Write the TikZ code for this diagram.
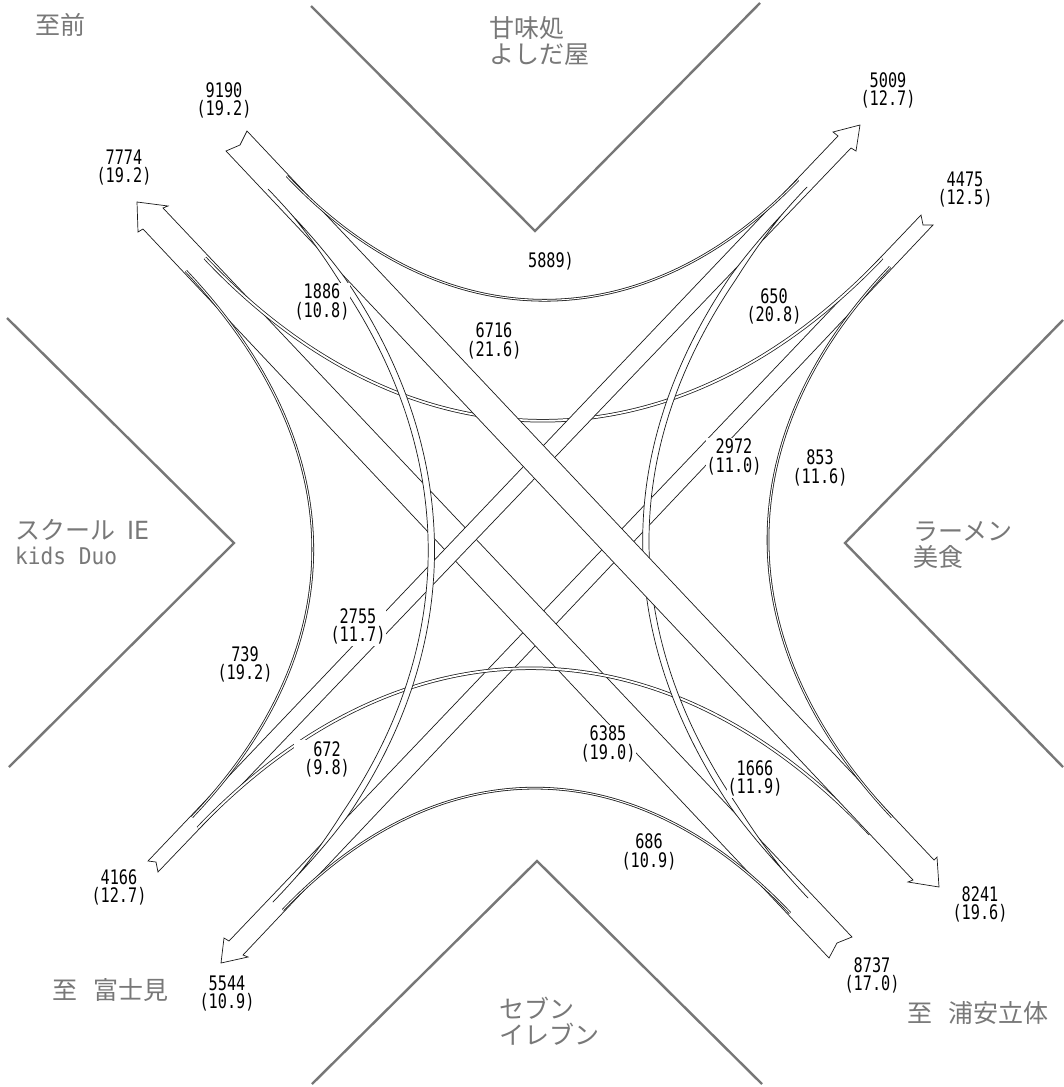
\documentclass[tikz,border=0pt]{standalone}
\usepackage{fontspec}
\newfontfamily\numfont[FakeStretch=0.76]{DejaVu Sans Mono}
\newfontfamily\jpfont{Noto Sans CJK JP}
\newfontfamily\lgfont[FakeStretch=0.92]{DejaVu Sans Mono}
\newfontfamily\iefont[FakeStretch=0.95]{DejaVu Sans}
\definecolor{bldg}{HTML}{777777}
\definecolor{txtgray}{HTML}{787878}
\definecolor{ink}{HTML}{1A1A1A}
\tikzset{
  bldgline/.style={draw=bldg,line width=2.4pt,line join=miter},
  band/.style={draw=ink,fill=white,line width=.7pt,line join=miter},
  arcthin/.style={draw=ink,line width=.8pt,double=white,double distance=1pt},
  arcmid/.style={draw=ink,line width=.75pt,double=white,double distance=1.9pt},
  arcwide/.style={draw=ink,fill=white,line width=.7pt,line join=round},
  lbl/.style={fill=white,inner sep=1pt,align=center,text=black,font=\numfont\fontsize{20}{18.6}\selectfont},
  place/.style={text=txtgray,inner sep=0pt,anchor=west,align=left,font=\jpfont\fontsize{25}{26.5}\selectfont}
}
% cubic curve (x0,y0)(x1,y1)(x2,y2)(x3,y3) drawn as two lines that meet near both ends
\newcommand\taperarc[8]{%
\begin{scope}[declare function={
 bx(\pp)=(1-\pp)*(1-\pp)*(1-\pp)*#1+3*(1-\pp)*(1-\pp)*\pp*#3+3*(1-\pp)*\pp*\pp*#5+\pp*\pp*\pp*#7;
 by(\pp)=(1-\pp)*(1-\pp)*(1-\pp)*#2+3*(1-\pp)*(1-\pp)*\pp*#4+3*(1-\pp)*\pp*\pp*#6+\pp*\pp*\pp*#8;
 dxa(\pp)=0.03*(1-\pp)*(1-\pp)*(#3-#1)+0.06*(1-\pp)*\pp*(#5-#3)+0.03*\pp*\pp*(#7-#5);
 dya(\pp)=0.03*(1-\pp)*(1-\pp)*(#4-#2)+0.06*(1-\pp)*\pp*(#6-#4)+0.03*\pp*\pp*(#8-#6);
 wd(\pp)=3.15*min(1,max(0,min((\pp-0.04)/0.09,(0.96-\pp)/0.09)));
 nx(\pp)=dya(\pp)/veclen(dxa(\pp),dya(\pp));
 ny(\pp)=dxa(\pp)/veclen(dxa(\pp),dya(\pp));
}]
\draw[arcwide] plot[domain=0:1,samples=121,variable=\pp] ({bx(\pp)+wd(\pp)*nx(\pp)},{by(\pp)-wd(\pp)*ny(\pp)})
 -- plot[domain=1:0,samples=121,variable=\pp] ({bx(\pp)-wd(\pp)*nx(\pp)},{by(\pp)+wd(\pp)*ny(\pp)}) -- cycle;
\end{scope}}
\begin{document}
\begin{tikzpicture}[x=1pt,y=-1pt]
\useasboundingbox (0,0) rectangle (1063,1087);
\fill[white] (0,0) rectangle (1063,1087);
% building corners
\draw[bldgline] (311,6) -- (535,231) -- (760,3);
\draw[bldgline] (1063,320) -- (845,543) -- (1063,767);
\draw[bldgline] (7,318) -- (234,543) -- (9,767);
\draw[bldgline] (312,1084) -- (537,861) -- (762,1084);
% road D
\draw[band] (921,215) -- (923,225) -- (933,225) -- (243,955) -- (248,957) -- (221,963) -- (224,938) -- (229,941) -- cycle;
% road B
\draw[band] (137,202) -- (168,206) -- (163,208) -- (852,937) -- (837,943) -- (829,958) -- (143,229) -- (138,232) -- cycle;
% top large arc
\draw[arcmid] (205,258) .. controls (410,475) and (675,475) .. (882,258);
% road C
\draw[band] (860,125) -- (856,151) -- (851,148) -- (158,872) -- (156,862) -- (148,861) -- (838,136) -- (833,132) -- cycle;
% bottom large arc
\draw[arcmid] (198,828) .. controls (403,614) and (663,614) .. (870,834);
% right wide arc
\taperarc{807}{187}{592}{413}{592}{669}{808}{898}
% road A
\draw[band] (247,131) -- (240,145) -- (226,151) -- (913,880) -- (908,882) -- (939,887) -- (937,857) -- (934,860) -- cycle;
% small arcs
\draw[arcthin] (287,176) .. controls (442,340) and (642,342) .. (798,180);
\draw[arcthin] (186,271) .. controls (354,449) and (354,647) .. (192,817);
\draw[arcthin] (890,267) .. controls (727,438) and (727,642) .. (892,817);
\draw[arcthin] (283,910) .. controls (439,747) and (633,747) .. (790,913);
% left wide arc
\taperarc{268}{189}{485}{414}{485}{684}{273}{902}
% volume labels
\node[lbl] (n9190) at (224,100.5) {9190\\(19.2)};
\node[lbl] (n7774) at (124,167.5) {7774\\(19.2)};
\node[lbl] (n5009) at (888,90.5) {5009\\(12.7)};
\node[lbl] (n4475) at (965,189.5) {4475\\(12.5)};
\node[lbl] (n1886) at (322,302) {1886\\(10.8)};
\node[lbl] (n6716) at (494,341) {6716\\(21.6)};
\node[lbl] (n5889) at (551,261) {5889)};
\node[lbl] (n650) at (774,306.5) {650\\(20.8)};
\node[lbl] (n2972) at (734,457) {2972\\(11.0)};
\node[lbl] (n853) at (820,468) {853\\(11.6)};
\node[lbl] (n2755) at (358,626.5) {2755\\(11.7)};
\node[lbl] (n739) at (245,664.5) {739\\(19.2)};
\node[lbl,minimum width=66pt] (n672) at (327,759.5) {672\\(9.8)};
\node[lbl] (n6385) at (608,744) {6385\\(19.0)};
\node[lbl] (n1666) at (755,778.5) {1666\\(11.9)};
\node[lbl] (n686) at (649,852) {686\\(10.9)};
\node[lbl] (n4166) at (119,887.5) {4166\\(12.7)};
\node[lbl] (n5544) at (227,993.5) {5544\\(10.9)};
\node[lbl] (n8241) at (980,904.5) {8241\\(19.6)};
\node[lbl] (n8737) at (872,975.5) {8737\\(17.0)};
% place names
\node[place] (pA) at (35,25) {至前};
\node[place] (pB) at (489,41) {甘味処\\よしだ屋};
\node[place] (pC) at (15,542) {スクール\hspace{12pt}{\iefont IE}\\[-2pt]{\lgfont\fontsize{23}{24}\selectfont kids Duo}};
\node[place] (pD) at (913,545) {ラーメン\\美食};
\node[place] (pE) at (499,1021) {セブン\\イレブン};
\node[place] (pF) at (52,990) {至\hspace{16pt}富士見};
\node[place] (pG) at (907,1013) {至\hspace{16pt}浦安立体};
\end{tikzpicture}
\end{document}
